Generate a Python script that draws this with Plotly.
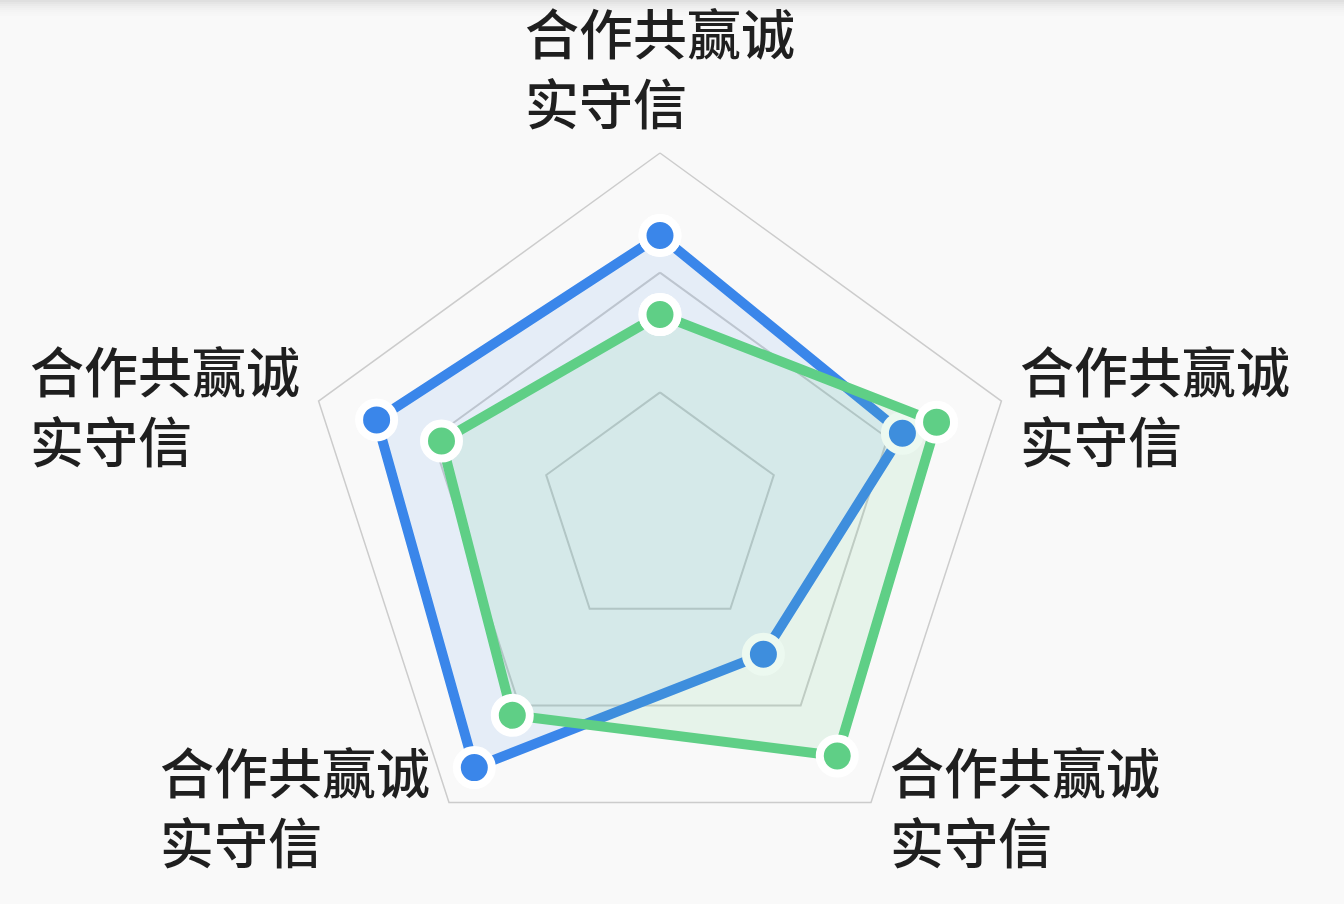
import math
import plotly.graph_objects as go

# ---- data ----
axis_ids = ["d1", "d2", "d3", "d4", "d5"]  # counterclockwise from top
axis_labels = ["合作共赢诚<br>实守信"] * 5
blue_values = [77, 83, 88, 49, 71]
green_values = [55, 64, 70, 84, 81]
r_max = 100
grid_vals = [100 / 3, 200 / 3]

W, H = 1344, 904
cx, cy, R = 660, 512, 359
BLUE = "#3a86ea"
GREEN = "#5fcf86"

fig = go.Figure()


def closed(v):
    return list(v) + [v[0]]


for vals, col, fill in [
    (blue_values, BLUE, "rgba(58,134,234,0.10)"),
    (green_values, GREEN, "rgba(95,207,134,0.12)"),
]:
    fig.add_trace(go.Scatterpolar(
        r=closed(vals), theta=closed(axis_ids), mode="lines+markers",
        line=dict(color=col, width=10),
        marker=dict(size=35, color=col, line=dict(color="white", width=8)),
        fill="toself", fillcolor=fill, showlegend=False, hoverinfo="skip",
    ))

# labels placed from the axis angles (anchored at each outer vertex)
annotations = []
hgap = 17
for i, lab in enumerate(axis_labels):
    ang = math.radians(90 + 72 * i)
    c, s = math.cos(ang), math.sin(ang)
    vx = cx + R * c
    vy = cy - R * s
    if c > 0.05:
        xa, px = "left", vx + hgap
    elif c < -0.05:
        xa, px = "right", vx - hgap
    else:
        xa, px = "center", vx
    py = vy - 86 if s > 0.9 else vy + 3
    annotations.append(dict(
        x=px / W, y=1 - py / H, xref="paper", yref="paper", text=lab,
        showarrow=False, xanchor=xa, yanchor="middle", align="left",
        font=dict(size=54, color="#1f1f1f", family="Noto Sans CJK SC", weight=500),
    ))

# top shadow band
shapes = []
for k, op in enumerate([0.10, 0.08, 0.06, 0.045, 0.03, 0.02, 0.012, 0.006]):
    shapes.append(dict(type="rect", xref="paper", yref="paper",
                       x0=0, x1=1, y0=1 - (2 * k + 2) / H, y1=1 - (2 * k) / H,
                       fillcolor="black", opacity=op, line=dict(width=0), layer="below"))

fig.update_layout(
    width=W, height=H, margin=dict(l=0, r=0, t=0, b=0),
    paper_bgcolor="#f9f9f9", plot_bgcolor="#f9f9f9",
    font=dict(family="Noto Sans CJK SC"),
    polar=dict(
        domain=dict(x=[(cx - R) / W, (cx + R) / W], y=[1 - (cy + R) / H, 1 - (cy - R) / H]),
        bgcolor="rgba(0,0,0,0)",
        gridshape="linear",
        radialaxis=dict(range=[0, r_max], tickvals=grid_vals, showticklabels=False,
                        ticks="", showline=False, gridcolor="#cccccc", gridwidth=1.5),
        angularaxis=dict(type="category", categoryarray=axis_ids, direction="counterclockwise",
                         rotation=90, showticklabels=False, ticks="", showgrid=False,
                         showline=True, linecolor="#cccccc", linewidth=1.5),
    ),
    annotations=annotations, shapes=shapes,
)

fig.write_html("out.html")
